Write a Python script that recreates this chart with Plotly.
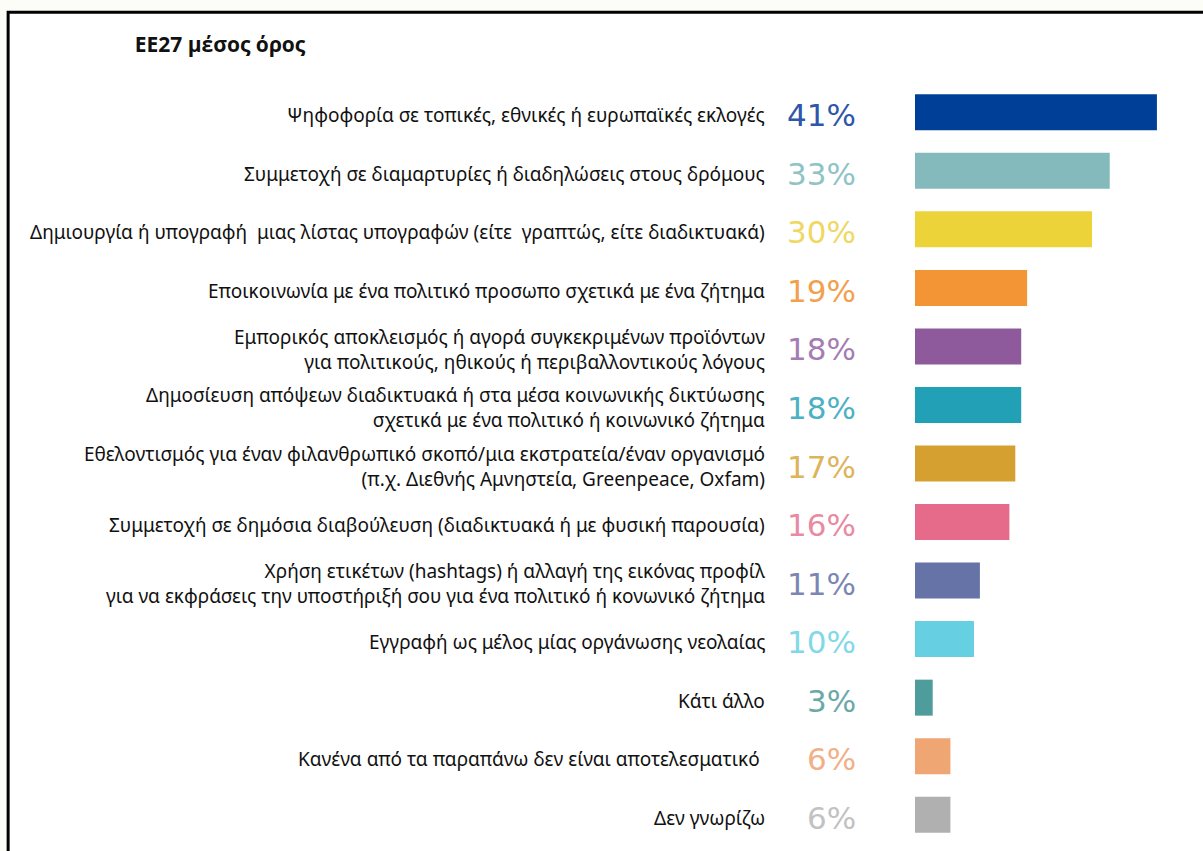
import plotly.graph_objects as go

categories = [
    "Ψηφοφορία σε τοπικές, εθνικές ή ευρωπαϊκές εκλογές",
    "Συμμετοχή σε διαμαρτυρίες ή διαδηλώσεις στους δρόμους",
    "Δημιουργία ή υπογραφή  μιας λίστας υπογραφών (είτε  γραπτώς, είτε διαδικτυακά)",
    "Εποικοινωνία με ένα πολιτικό προσωπο σχετικά με ένα ζήτημα",
    "Εμπορικός αποκλεισμός ή αγορά συγκεκριμένων προϊόντων<br>για πολιτικούς, ηθικούς ή περιβαλλοντικούς λόγους",
    "Δημοσίευση απόψεων διαδικτυακά ή στα μέσα κοινωνικής δικτύωσης<br>σχετικά με ένα πολιτικό ή κοινωνικό ζήτημα",
    "Εθελοντισμός για έναν φιλανθρωπικό σκοπό/μια εκστρατεία/έναν οργανισμό<br>(π.χ. Διεθνής Αμνηστεία, Greenpeace, Oxfam)",
    "Συμμετοχή σε δημόσια διαβούλευση (διαδικτυακά ή με φυσική παρουσία)",
    "Χρήση ετικέτων (hashtags) ή αλλαγή της εικόνας προφίλ<br>για να εκφράσεις την υποστήριξή σου για ένα πολιτικό ή κονωνικό ζήτημα",
    "Εγγραφή ως μέλος μίας οργάνωσης νεολαίας",
    "Κάτι άλλο",
    "Κανένα από τα παραπάνω δεν είναι αποτελεσματικό ",
    "Δεν γνωρίζω",
]
values = [41, 33, 30, 19, 18, 18, 17, 16, 11, 10, 3, 6, 6]
bar_colors = [
    "#003f98", "#84babb", "#ecd33a", "#f39535", "#8e5a9c", "#22a0b5", "#d5a030",
    "#e66a8a", "#6673a6", "#66d0e2", "#4f9c9c", "#f0a673", "#b0b0b0",
]
label_colors = [
    "#2f56a8", "#8fc3c5", "#efd862", "#f2a04e", "#a57db3", "#4cb1c3", "#ddb45a",
    "#e98aa3", "#7b86b3", "#82d8e8", "#6aa9a8", "#f2b088", "#c2c2c2",
]

keys = [f"c{i}" for i in range(len(categories))]

fig = go.Figure()

fig.add_trace(
    go.Bar(
        x=values,
        y=keys,
        orientation="h",
        marker=dict(color=bar_colors, line=dict(width=0)),
        width=0.615,
        hoverinfo="skip",
        showlegend=False,
    )
)

# Category text and percentage labels to the left of the bars
for key, cat, val, col in zip(keys, categories, values, label_colors):
    fig.add_annotation(
        x=0, xref="paper", y=key, yref="y",
        text=cat, showarrow=False,
        xanchor="right", yanchor="middle", align="right",
        xshift=-148, yshift=-3,
        font=dict(family="Liberation Sans Narrow, Noto Sans, sans-serif", size=19, color="#111111"),
    )
    fig.add_annotation(
        x=0, xref="paper", y=key, yref="y",
        text=f"{val}%", showarrow=False,
        xanchor="right", yanchor="middle",
        xshift=-57, yshift=-3,
        font=dict(family="DejaVu Sans, Verdana, sans-serif", size=31, color=col),
    )

# Frame around the chart
fig.add_shape(
    type="rect", xref="paper", yref="paper",
    x0=-3.182, x1=1.06, y0=-0.03, y1=1.093,
    line=dict(color="#000000", width=3), fillcolor="#ffffff", layer="below",
)

fig.update_layout(
    width=1203,
    height=851,
    margin=dict(l=915, r=3, t=83, b=7),
    paper_bgcolor="#fcfdf6",
    plot_bgcolor="rgba(0,0,0,0)",
    title=dict(
        text="<b>ΕΕ27 μέσος όρος</b>",
        x=0.112, xanchor="left", y=0.948, yanchor="middle",
        font=dict(family="Open Sans, sans-serif", size=21, color="#111111"),
    ),
    xaxis=dict(range=[0, 48.3], visible=False, fixedrange=True),
    yaxis=dict(
        categoryorder="array", categoryarray=keys, autorange="reversed",
        visible=False, fixedrange=True,
    ),
    bargap=0.385,
)

fig.write_html(
    "out.html",
    config={"displayModeBar": False},
    post_script="document.body.style.margin='0';document.body.style.background='#fcfdf6';",
)
